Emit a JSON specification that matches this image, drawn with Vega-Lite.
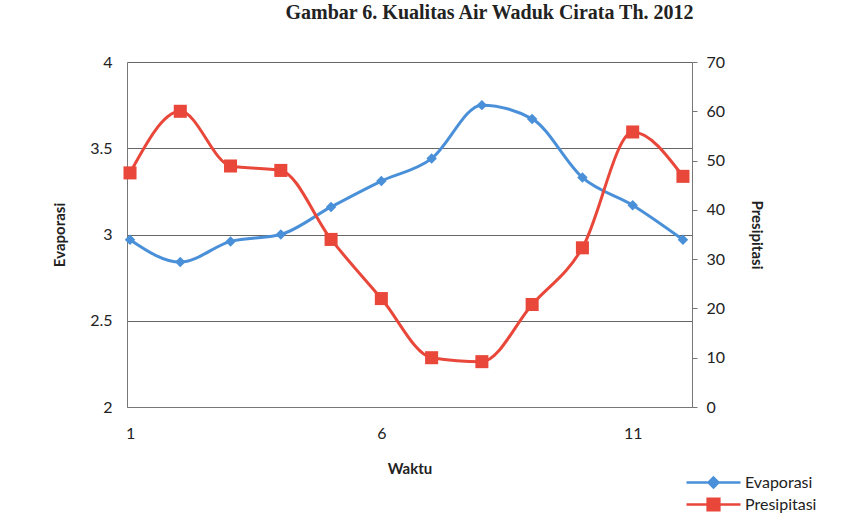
{
  "$schema": "https://vega.github.io/schema/vega-lite/v6.json",
  "autosize": "none",
  "width": 565,
  "height": 345,
  "padding": {"left": 127, "top": 62, "right": 167, "bottom": 124},
  "background": "white",
  "title": {
    "text": "Gambar 6. Kualitas Air Waduk Cirata Th. 2012",
    "font": "Liberation Serif",
    "fontSize": 20,
    "fontWeight": "bold",
    "color": "#222",
    "anchor": "middle",
    "dx": 80,
    "offset": 31
  },
  "config": {
    "view": {"stroke": null},
    "font": "Lato",
    "axis": {"labelFont": "Lato", "titleFont": "Lato", "labelColor": "#222", "titleColor": "#222"}
  },
  "data": {
    "values": [
      {"waktu": 1, "evaporasi": 2.97, "presipitasi": 47.5},
      {"waktu": 2, "evaporasi": 2.84, "presipitasi": 60.0},
      {"waktu": 3, "evaporasi": 2.96, "presipitasi": 48.9},
      {"waktu": 4, "evaporasi": 3.0, "presipitasi": 48.0},
      {"waktu": 5, "evaporasi": 3.16, "presipitasi": 34.0},
      {"waktu": 6, "evaporasi": 3.31, "presipitasi": 22.0},
      {"waktu": 7, "evaporasi": 3.44, "presipitasi": 10.0},
      {"waktu": 8, "evaporasi": 3.75, "presipitasi": 9.2},
      {"waktu": 9, "evaporasi": 3.67, "presipitasi": 20.8},
      {"waktu": 10, "evaporasi": 3.33, "presipitasi": 32.3},
      {"waktu": 11, "evaporasi": 3.17, "presipitasi": 55.8},
      {"waktu": 12, "evaporasi": 2.97, "presipitasi": 46.8}
    ]
  },
  "encoding": {
    "x": {
      "field": "waktu",
      "type": "quantitative",
      "scale": {"domain": [0.94, 12.18], "nice": false, "zero": false},
      "axis": {
        "title": "Waktu",
        "values": [1, 6, 11],
        "grid": false,
        "ticks": false,
        "domainColor": "#777",
        "labelFontSize": 16,
        "labelPadding": 18,
        "titleFontSize": 15,
        "titleFontWeight": "bold",
        "titlePadding": 20
      }
    }
  },
  "layer": [
    {
      "layer": [
        {
          "mark": {"type": "line", "interpolate": "monotone", "strokeWidth": 3},
          "encoding": {
            "y": {"field": "evaporasi", "type": "quantitative"},
            "color": {
              "datum": "Evaporasi",
              "scale": {"domain": ["Evaporasi", "Presipitasi"], "range": ["#4a90d9", "#e8473a"]},
              "legend": {
                "title": null,
                "orient": "none",
                "legendX": 576,
                "legendY": 410,
                "labelFont": "Lato",
                "labelFontSize": 16,
                "labelColor": "#222",
                "rowPadding": 0,
                "symbolSize": 324,
                "symbolStrokeWidth": 2.5,
                "labelOffset": 21,
                "encode": {
                  "symbols": {
                    "update": {
                      "shape": {"signal": "datum.value == 'Evaporasi' ? 'M-3,0H3M0,-0.55L0.55,0L0,0.55L-0.55,0Z' : 'M-3,0H3M-0.65,-0.65H0.65V0.65H-0.65Z'"},
                      "fill": {"signal": "datum.value == 'Evaporasi' ? '#4a90d9' : '#e8473a'"},
                      "stroke": {"signal": "datum.value == 'Evaporasi' ? '#4a90d9' : '#e8473a'"},
                      "opacity": {"value": 1}
                    }
                  }
                }
              }
            }
          }
        },
        {
          "mark": {"type": "point", "shape": "diamond", "filled": true, "size": 110, "opacity": 1},
          "encoding": {
            "y": {
              "field": "evaporasi",
              "type": "quantitative",
              "scale": {"domain": [2, 4], "nice": false, "zero": false},
              "axis": {
                "title": "Evaporasi",
                "orient": "left",
                "values": [2, 2.5, 3, 3.5, 4],
                "format": "~g",
                "grid": true,
                "gridColor": "#666",
                "gridWidth": 1.2,
                "ticks": false,
                "domainColor": "#777",
                "labelFontSize": 16,
                "labelPadding": 15,
                "titleFontSize": 15,
                "titleFontWeight": "bold",
                "titlePadding": 22
              }
            },
            "color": {"datum": "Evaporasi"}
          }
        }
      ]
    },
    {
      "layer": [
        {
          "mark": {"type": "line", "interpolate": "monotone", "strokeWidth": 3},
          "encoding": {
            "y": {"field": "presipitasi", "type": "quantitative"},
            "color": {"datum": "Presipitasi"}
          }
        },
        {
          "mark": {"type": "point", "shape": "square", "filled": true, "size": 170, "opacity": 1},
          "encoding": {
            "y": {
              "field": "presipitasi",
              "type": "quantitative",
              "scale": {"domain": [0, 70], "nice": false},
              "axis": {
                "title": "Presipitasi",
                "orient": "right",
                "values": [0, 10, 20, 30, 40, 50, 60, 70],
                "grid": false,
                "ticks": true,
                "tickSize": 5,
                "tickColor": "#777",
                "domainColor": "#777",
                "labelFontSize": 16,
                "labelPadding": 9,
                "titleFontSize": 15,
                "titleFontWeight": "bold",
                "titlePadding": 24
              }
            },
            "color": {"datum": "Presipitasi"}
          }
        }
      ]
    }
  ],
  "resolve": {"scale": {"y": "independent"}, "axis": {"y": "independent"}}
}
